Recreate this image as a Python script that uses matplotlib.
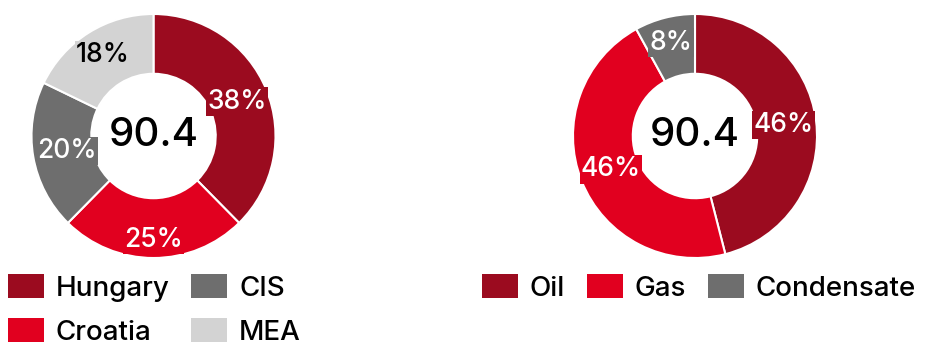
import matplotlib.pyplot as plt
from matplotlib.patches import Patch

plt.rcParams['font.family'] = ['Inter', 'DejaVu Sans']
plt.rcParams['font.weight'] = 'medium'

# Data
region_labels = ['Hungary', 'Croatia', 'CIS', 'MEA']
region_values = [38, 25, 20, 18]
product_labels = ['Oil', 'Gas', 'Condensate']
product_values = [46, 46, 8]
total_text = '90.4'

dark_red = '#9B0B1F'
red = '#E1001F'
grey = '#6E6E6E'
light_grey = '#D3D3D3'
region_colors = [dark_red, red, grey, light_grey]
region_txt = ['white', 'white', 'white', 'black']
region_dist = [0.74, 0.85, 0.72, 0.78]
product_colors = [dark_red, red, grey]
product_txt = ['white', 'white', 'white']
product_dist = [0.73, 0.74, 0.79]

W, H = 935, 354
fig = plt.figure(figsize=(W / 100, H / 100), dpi=100)


def donut(cx, cy, r, values, colors, txtcols, dists):
    ax = fig.add_axes([(cx - r) / W, 1 - (cy + r) / H, 2 * r / W, 2 * r / H])
    wedges, texts, autotexts = ax.pie(
        values, colors=colors, startangle=90, counterclock=False,
        radius=1, pctdistance=1.0,
        autopct=lambda p: '%d%%' % round(p * sum(values) / 100.0),
        wedgeprops=dict(width=0.49, edgecolor='white', linewidth=1.5))
    for t, fc, c, d in zip(autotexts, colors, txtcols, dists):
        x, y = t.get_position()
        t.set_position((x * d, y * d))
        t.set_color(c)
        t.set_fontsize(19)
        t.set_bbox(dict(facecolor=fc, edgecolor='none', pad=1))
    ax.text(0, 0, total_text, ha='center', va='center', fontsize=29, color='black')
    ax.set_xlim(-1, 1)
    ax.set_ylim(-1, 1)
    ax.axis('off')
    return ax


donut(153.5, 136, 122, region_values, region_colors, region_txt, region_dist)
donut(695, 136, 122, product_values, product_colors, product_txt, product_dist)

# Legends
leg_kw = dict(loc='upper left', frameon=False, fontsize=20,
              handlelength=1.3, handleheight=0.95, handletextpad=0.42,
              columnspacing=0.78, labelspacing=0.6,
              borderpad=0, borderaxespad=0)

h1 = [Patch(facecolor=c, edgecolor='none') for c in region_colors]
fig.legend(h1, region_labels, ncol=2, bbox_to_anchor=(8 / W, 1 - 274 / H), **leg_kw)

h2 = [Patch(facecolor=c, edgecolor='none') for c in product_colors]
fig.legend(h2, product_labels, ncol=3, bbox_to_anchor=(482 / W, 1 - 274 / H), **leg_kw)

fig.savefig('out.png', dpi=100)
